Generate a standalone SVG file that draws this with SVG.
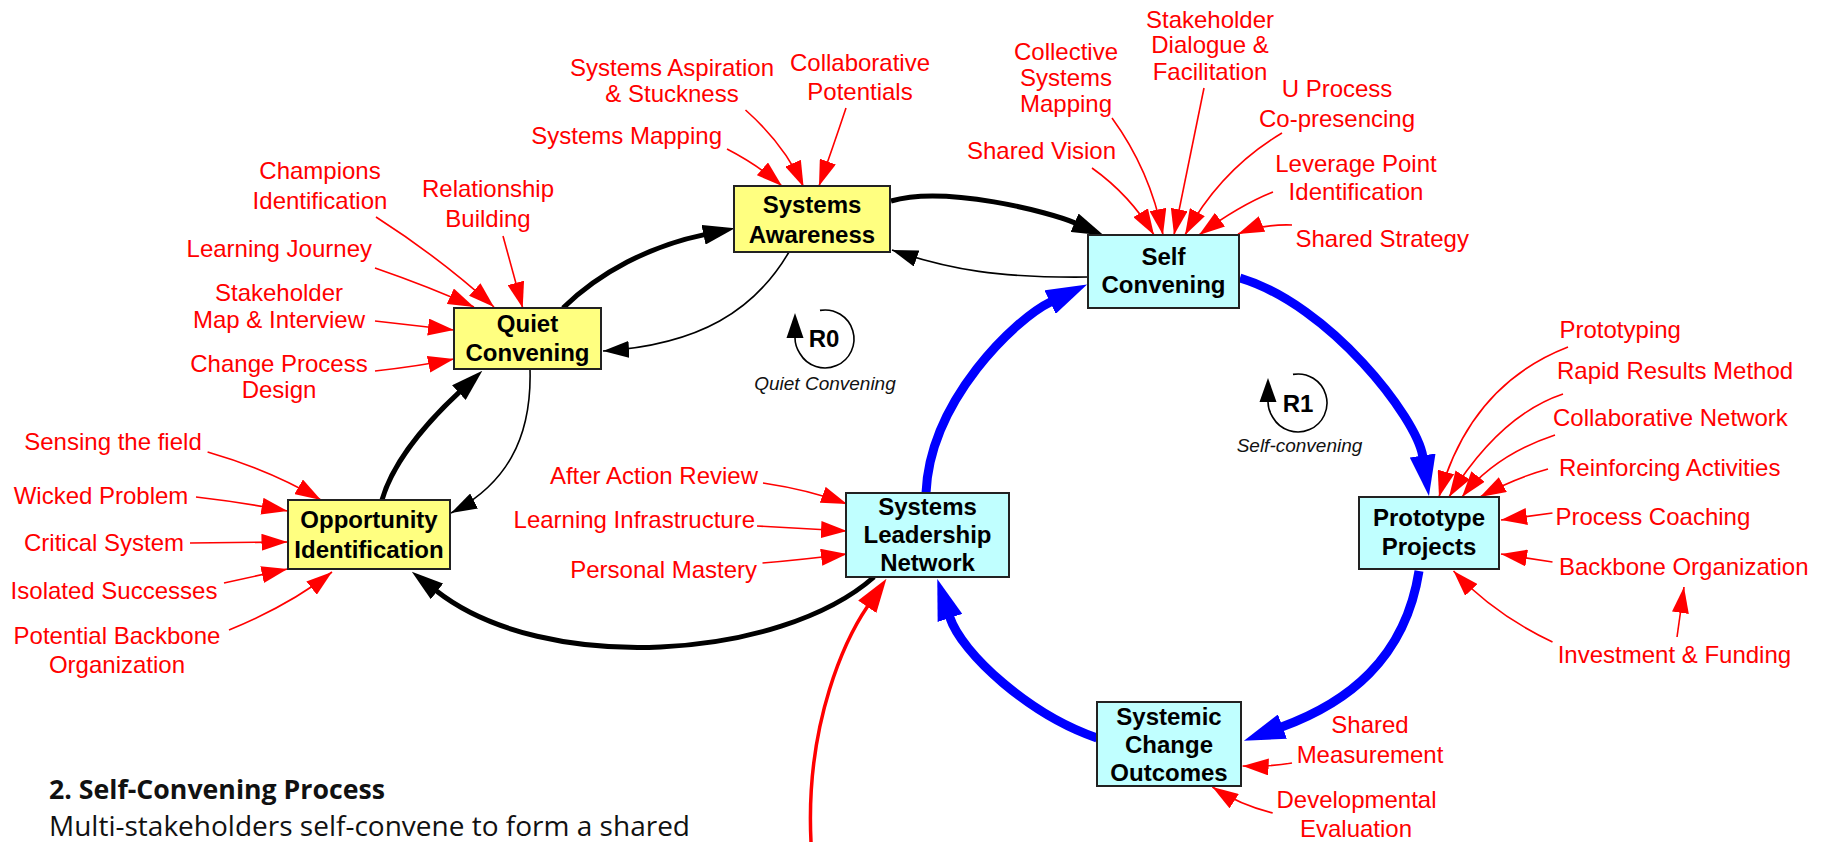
<svg xmlns="http://www.w3.org/2000/svg" width="1825" height="842" viewBox="0 0 1825 842">
<style>
.lbl{font-family:"Liberation Sans",Arial,sans-serif;font-size:24px;fill:#ff0000}
.m{text-anchor:middle}.e{text-anchor:end}
.nt{font-family:"Liberation Sans",Arial,sans-serif;font-weight:bold;font-size:24px;fill:#000;text-anchor:middle}
.yel{fill:#ffff80;stroke:#222;stroke-width:2}
.cyn{fill:#c0ffff;stroke:#222;stroke-width:2}
.it{font-family:"Liberation Sans",Arial,sans-serif;font-style:italic;font-size:19px;fill:#111;text-anchor:middle}
.rl{font-family:"Liberation Sans",Arial,sans-serif;font-weight:bold;font-size:24px;fill:#000;text-anchor:middle}
.rt{fill:none;stroke:#f00;stroke-width:1.6;marker-end:url(#aR)}
.bt{fill:none;stroke:#000;stroke-width:1.6;marker-end:url(#aK)}
.bk{fill:none;stroke:#000;stroke-width:5;marker-end:url(#aKK)}
.bl{fill:none;stroke:#0000ff;stroke-width:9;marker-end:url(#aB)}
.rk{fill:none;stroke:#f00;stroke-width:3.5;marker-end:url(#aRR)}
.ft{font-family:"Open Sans","Liberation Sans",sans-serif;font-size:27px;fill:#111}
</style>
<defs>
<marker id="aR" markerUnits="userSpaceOnUse" viewBox="0 0 26 17" refX="26" refY="8.5" markerWidth="26" markerHeight="17" orient="auto"><path d="M0,0 L26,8.5 L0,17 z" fill="#ff0000"/></marker>
<marker id="aK" markerUnits="userSpaceOnUse" viewBox="0 0 26 17" refX="26" refY="8.5" markerWidth="26" markerHeight="17" orient="auto"><path d="M0,0 L26,8.5 L0,17 z" fill="#000"/></marker>
<marker id="aKK" markerUnits="userSpaceOnUse" viewBox="0 0 32 20" refX="1" refY="10" markerWidth="32" markerHeight="20" orient="auto"><path d="M0,0 L32,10 L0,20 z" fill="#000"/></marker>
<marker id="aB" markerUnits="userSpaceOnUse" viewBox="0 0 41 26" refX="1" refY="13" markerWidth="41" markerHeight="26" orient="auto"><path d="M0,0 L41,13 L0,26 z" fill="#0000ff"/></marker>
<marker id="aRR" markerUnits="userSpaceOnUse" viewBox="0 0 34 22" refX="1" refY="11" markerWidth="34" markerHeight="22" orient="auto"><path d="M0,0 L34,11 L0,22 z" fill="#ff0000"/></marker>
</defs>
<rect x="0" y="0" width="1825" height="842" fill="#fff"/>

<g id="connectors">
<!-- black loop -->
<path class="bk" d="M563,308 C600,272 650,246 704.5,234.6"/>
<path class="bk" d="M891,201 C945,185 1050,212 1075.5,223.1"/>
<path class="bt" d="M1088,277 C1000,278 950,270 892,250"/>
<path class="bt" d="M789,252 C755,310 700,345 603,351"/>
<path class="bt" d="M530,369 C532,440 505,485 451,513"/>
<path class="bk" d="M382,500 C395,455 439,411 459.6,391.9"/>
<path class="bk" d="M874,577 C780,660 544.6,676 436.2,590.8"/>
<!-- blue loop -->
<path class="bl" d="M1240,278 C1330,305 1416.8,418 1422.8,456.5"/>
<path class="bl" d="M1419,571 C1405,660 1346.3,703.3 1281.5,727"/>
<path class="bl" d="M1097,738 C1030,715 961.8,654 949.7,617"/>
<path class="bl" d="M926,493 C930,400 1015.8,318.5 1051,301.7"/>
<!-- red long -->
<path class="rk" d="M811,842 C805,720 847.4,635.8 867.8,606"/>
<!-- label arrows: Quiet Convening -->
<path class="rt" d="M376,217 Q440,258 494,307"/>
<path class="rt" d="M503,236 L522.7,308"/>
<path class="rt" d="M375,268 Q430,287 474,307"/>
<path class="rt" d="M375,321 L454,330"/>
<path class="rt" d="M375,371 Q420,366 454,359"/>
<!-- Systems Awareness -->
<path class="rt" d="M727,149 Q758,165 782,186"/>
<path class="rt" d="M745.5,110 Q785,145 803.6,187"/>
<path class="rt" d="M846,108 Q832,150 819,186"/>
<!-- Self Convening -->
<path class="rt" d="M1092,168 Q1130,195 1154,235"/>
<path class="rt" d="M1112,118 Q1150,170 1163,235"/>
<path class="rt" d="M1204,88 L1174,235"/>
<path class="rt" d="M1282,133 Q1220,170 1185,235"/>
<path class="rt" d="M1273,192 Q1240,205 1199,235"/>
<path class="rt" d="M1292,225 Q1262,224 1238,234"/>
<!-- Opportunity Identification -->
<path class="rt" d="M207.6,452 Q270,470 321,500"/>
<path class="rt" d="M196,497 Q240,502 287.5,511"/>
<path class="rt" d="M190,543 L287.5,542"/>
<path class="rt" d="M224,583 L287.5,569"/>
<path class="rt" d="M229,630 Q290,605 332,572"/>
<!-- Systems Leadership Network -->
<path class="rt" d="M763,483 Q810,490 847,504"/>
<path class="rt" d="M757,526 L847,531"/>
<path class="rt" d="M762.5,563 Q800,560 847,554"/>
<!-- Prototype Projects -->
<path class="rt" d="M1568,347 Q1470,385 1439,497"/>
<path class="rt" d="M1563,394 Q1500,415 1449,497"/>
<path class="rt" d="M1555,435 Q1495,455 1462,497"/>
<path class="rt" d="M1548,469 Q1515,478 1480,497"/>
<path class="rt" d="M1552.5,513 L1501,520"/>
<path class="rt" d="M1552.5,562 L1501,554"/>
<path class="rt" d="M1552.5,642 Q1495,615 1453.5,571"/>
<path class="rt" d="M1677,637 L1684,587"/>
<!-- Systemic Change Outcomes -->
<path class="rt" d="M1292,763 Q1270,767 1242.6,766"/>
<path class="rt" d="M1272.7,813 Q1240,805 1212.4,787"/>
</g>

<g id="node-systems-awareness">
<rect class="yel" x="734" y="186" width="156" height="66"/>
<text class="nt" x="812" y="213">Systems</text>
<text class="nt" x="812" y="243">Awareness</text>
</g>
<g id="node-self-convening">
<rect class="cyn" x="1088" y="235" width="151" height="73"/>
<text class="nt" x="1163.5" y="265">Self</text>
<text class="nt" x="1163.5" y="293">Convening</text>
</g>
<g id="node-quiet-convening">
<rect class="yel" x="454" y="308" width="147" height="61"/>
<text class="nt" x="527.5" y="332">Quiet</text>
<text class="nt" x="527.5" y="361">Convening</text>
</g>
<g id="node-opportunity-identification">
<rect class="yel" x="288" y="500" width="162" height="69"/>
<text class="nt" x="369" y="528">Opportunity</text>
<text class="nt" x="369" y="558">Identification</text>
</g>
<g id="node-systems-leadership-network">
<rect class="cyn" x="846" y="493" width="163" height="84"/>
<text class="nt" x="927.5" y="515">Systems</text>
<text class="nt" x="927.5" y="543">Leadership</text>
<text class="nt" x="927.5" y="571">Network</text>
</g>
<g id="node-prototype-projects">
<rect class="cyn" x="1359" y="497" width="140" height="72"/>
<text class="nt" x="1429" y="526">Prototype</text>
<text class="nt" x="1429" y="555">Projects</text>
</g>
<g id="node-systemic-change-outcomes">
<rect class="cyn" x="1097" y="702" width="144" height="84"/>
<text class="nt" x="1169" y="725">Systemic</text>
<text class="nt" x="1169" y="753">Change</text>
<text class="nt" x="1169" y="781">Outcomes</text>
</g>

<g id="loop-r0">
<path d="M820,310.4 A29,29 0 1 1 799.9,353.5 Q795,346 795,338" fill="none" stroke="#000" stroke-width="1.6"/>
<path d="M786.5,338 L795,313 L803.5,338 z" fill="#000"/>
<text class="rl" x="824" y="347">R0</text>
<text class="it" x="825" y="390">Quiet Convening</text>
</g>
<g id="loop-r1">
<path d="M1293,374.4 A29,29 0 1 1 1272.9,417.5 Q1268,410 1268,402" fill="none" stroke="#000" stroke-width="1.6"/>
<path d="M1259.5,402 L1268,378 L1276.5,402 z" fill="#000"/>
<text class="rl" x="1298" y="412">R1</text>
<text class="it" x="1299.5" y="452">Self-convening</text>
</g>

<g id="labels-systems-awareness">
<text class="lbl m" x="672" y="76">Systems Aspiration</text>
<text class="lbl m" x="672" y="102">&amp; Stuckness</text>
<text class="lbl m" x="860" y="71">Collaborative</text>
<text class="lbl m" x="860" y="100">Potentials</text>
<text class="lbl e" x="722" y="144">Systems Mapping</text>
</g>
<g id="labels-self-convening">
<text class="lbl m" x="1066" y="60">Collective</text>
<text class="lbl m" x="1066" y="86">Systems</text>
<text class="lbl m" x="1066" y="112">Mapping</text>
<text class="lbl m" x="1210" y="28">Stakeholder</text>
<text class="lbl m" x="1210" y="53">Dialogue &amp;</text>
<text class="lbl m" x="1210" y="80">Facilitation</text>
<text class="lbl m" x="1337" y="97">U Process</text>
<text class="lbl m" x="1337" y="127">Co-presencing</text>
<text class="lbl m" x="1356" y="172">Leverage Point</text>
<text class="lbl m" x="1356" y="200">Identification</text>
<text class="lbl" x="1295.5" y="247">Shared Strategy</text>
<text class="lbl e" x="1116" y="159">Shared Vision</text>
</g>
<g id="labels-quiet-convening">
<text class="lbl m" x="320" y="179">Champions</text>
<text class="lbl m" x="320" y="209">Identification</text>
<text class="lbl m" x="488" y="197">Relationship</text>
<text class="lbl m" x="488" y="227">Building</text>
<text class="lbl e" x="372" y="257">Learning Journey</text>
<text class="lbl m" x="279" y="301">Stakeholder</text>
<text class="lbl m" x="279" y="328">Map &amp; Interview</text>
<text class="lbl m" x="279" y="372">Change Process</text>
<text class="lbl m" x="279" y="398">Design</text>
</g>
<g id="labels-opportunity-identification">
<text class="lbl m" x="113" y="450">Sensing the field</text>
<text class="lbl m" x="101" y="504">Wicked Problem</text>
<text class="lbl m" x="104" y="551">Critical System</text>
<text class="lbl m" x="114" y="599">Isolated Successes</text>
<text class="lbl m" x="117" y="644">Potential Backbone</text>
<text class="lbl m" x="117" y="673">Organization</text>
</g>
<g id="labels-systems-leadership-network">
<text class="lbl e" x="758" y="484">After Action Review</text>
<text class="lbl e" x="755" y="528">Learning Infrastructure</text>
<text class="lbl e" x="757" y="578">Personal Mastery</text>
</g>
<g id="labels-prototype-projects">
<text class="lbl" x="1559.5" y="338">Prototyping</text>
<text class="lbl" x="1557" y="379">Rapid Results Method</text>
<text class="lbl" x="1553" y="426">Collaborative Network</text>
<text class="lbl" x="1559" y="476">Reinforcing Activities</text>
<text class="lbl" x="1555.5" y="525">Process Coaching</text>
<text class="lbl" x="1559" y="575">Backbone Organization</text>
<text class="lbl" x="1557.7" y="663">Investment &amp; Funding</text>
</g>
<g id="labels-systemic-change-outcomes">
<text class="lbl m" x="1370" y="733">Shared</text>
<text class="lbl m" x="1370" y="763">Measurement</text>
<text class="lbl m" x="1356.5" y="808">Developmental</text>
<text class="lbl m" x="1356" y="837">Evaluation</text>
</g>

<g id="caption">
<text class="ft" x="49" y="799" font-weight="bold" textLength="336" lengthAdjust="spacingAndGlyphs">2. Self-Convening Process</text>
<text class="ft" x="49" y="836" textLength="641" lengthAdjust="spacingAndGlyphs">Multi-stakeholders self-convene to form a shared</text>
</g>
</svg>
